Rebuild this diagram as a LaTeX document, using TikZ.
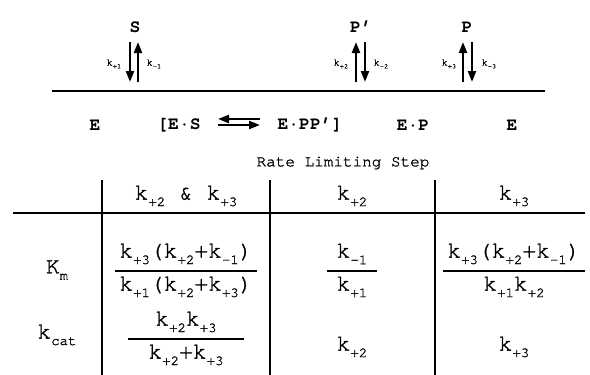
\documentclass[tikz,border=0pt]{standalone}
\usepackage{fontspec}
\setmainfont{TeX Gyre Cursor}
\newfontfamily\medcour{TeX Gyre Cursor}[FakeBold=1.2]
\usetikzlibrary{arrows.meta}
\newcommand\K[2]{k\raisebox{-0.28em}{\fontsize{#2}{#2}\selectfont #1}}
\begin{document}
\begin{tikzpicture}[x=1pt,y=-1pt,
  big/.style={font=\fontsize{18}{18}\selectfont\bfseries, inner sep=0pt},
  tiny/.style={font=\fontsize{10}{10}\selectfont\medcour, inner sep=0pt},
  cell/.style={font=\fontsize{23}{23}\selectfont\medcour, inner sep=0pt},
  rule/.style={line width=1.6pt},
  eq/.style={line width=2.2pt, -{Triangle[length=11pt,width=8pt]}}]
\useasboundingbox (0,0) rectangle (590,375);
% top species
\node[big] (S) at (135,27) {S};
\node[big] (Pp) at (361,27) {P'};
\node[big] (P) at (467,27) {P};
\draw[eq] (130,42) -- (130,82);
\draw[eq] (138,82) -- (138,42);
\node[tiny] (k1p) at (114,64) {\K{+1}{7}};
\node[tiny] (k1m) at (154,64) {\K{-1}{7}};
\draw[eq] (356,82) -- (356,42);
\draw[eq] (365,42) -- (365,82);
\node[tiny] (k2p) at (341,64) {\K{+2}{7}};
\node[tiny] (k2m) at (381,64) {\K{-2}{7}};
\draw[eq] (463,82) -- (463,42);
\draw[eq] (472,42) -- (472,82);
\node[tiny] (k3p) at (449,64) {\K{+3}{7}};
\node[tiny] (k3m) at (489,64) {\K{-3}{7}};
\draw[rule] (52,91) -- (545,91);
% bottom species
\node[big] (E1) at (95,125) {E};
\node[big] (ES) at (179,125) {[E·S};
\draw[eq] (260,119) -- (218,119);
\draw[eq] (218,125) -- (260,125);
\node[big] (EPP) at (310,125) {E·PP']};
\node[big] (EP) at (413,125) {E·P};
\node[big] (E2) at (512,125) {E};
% table
\node[font=\fontsize{16}{16}\selectfont\medcour, inner sep=0pt] (rls) at (343,163) {Rate Limiting Step};
\draw[rule] (13,213) -- (585,213);
\draw[rule] (102,180) -- (102,375);
\draw[rule] (270,180) -- (270,375);
\draw[rule] (435,180) -- (435,375);
\node[cell] (h1) at (186,196) {\K{+2}{14} \& \K{+3}{14}};
\node[cell] (h2) at (352,196) {\K{+2}{14}};
\node[cell] (h3) at (514,196) {\K{+3}{14}};
\node[cell] (Km) at (57,270) {K\raisebox{-0.28em}{\fontsize{14}{14}\selectfont m}};
\node[cell] (kcat) at (57,335) {k\raisebox{-0.28em}{\fontsize{14}{14}\selectfont cat}};
% Km row
\node[cell] (n1) at (186,254) {\K{+3}{14}(\K{+2}{14}+\K{-1}{14})};
\draw[line width=1.3pt] (115,271) -- (257,271);
\node[cell] (d1) at (186,287) {\K{+1}{14}(\K{+2}{14}+\K{+3}{14})};
\node[cell] (n2) at (352,254) {\K{-1}{14}};
\draw[line width=1.3pt] (327,271) -- (377,271);
\node[cell] (d2) at (352,287) {\K{+1}{14}};
\node[cell] (n3) at (514,254) {\K{+3}{14}(\K{+2}{14}+\K{-1}{14})};
\draw[line width=1.3pt] (443,271) -- (585,271);
\node[cell] (d3) at (514,287) {\K{+1}{14}\K{+2}{14}};
% kcat row
\node[cell] (n4) at (186,322) {\K{+2}{14}\K{+3}{14}};
\draw[line width=1.3pt] (128,339) -- (244,339);
\node[cell] (d4) at (186,355) {\K{+2}{14}+\K{+3}{14}};
\node[cell] (c2) at (352,347) {\K{+2}{14}};
\node[cell] (c3) at (514,347) {\K{+3}{14}};
\end{tikzpicture}
\end{document}
